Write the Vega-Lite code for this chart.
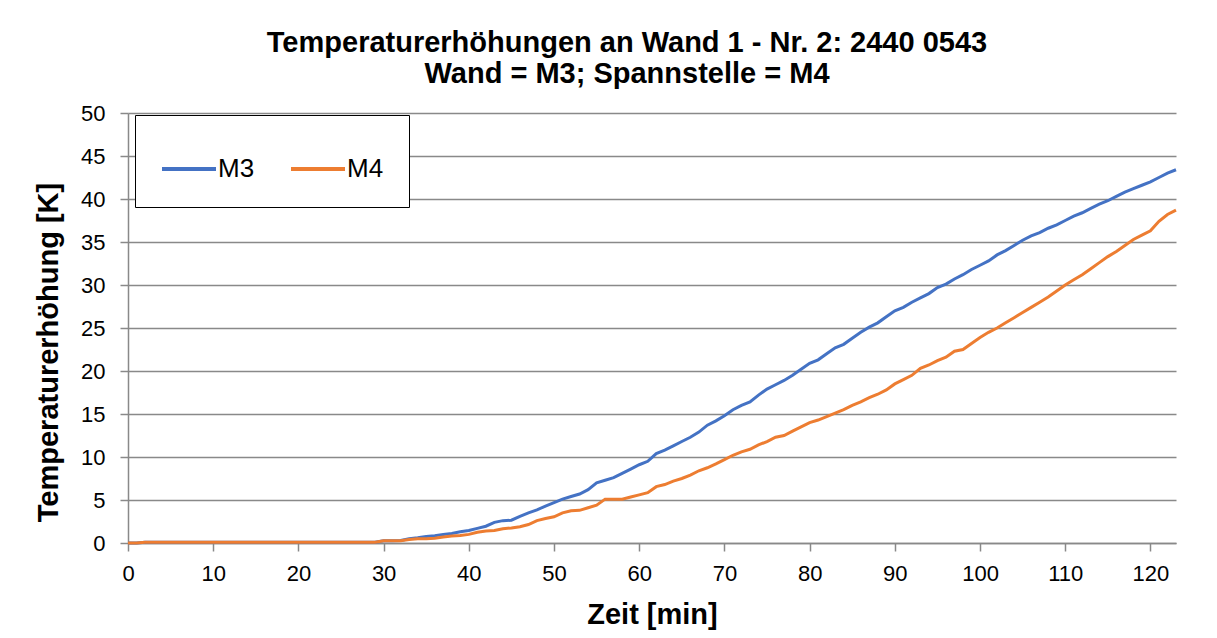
{
  "$schema": "https://vega.github.io/schema/vega-lite/v6.json",
  "width": 1048,
  "height": 430,
  "autosize": "none",
  "padding": {"left": 128, "top": 113, "right": 41, "bottom": 95},
  "background": "white",
  "title": {
    "text": ["Temperaturerhöhungen an Wand 1 - Nr. 2: 2440 0543", "Wand = M3; Spannstelle = M4"],
    "font": "Liberation Sans",
    "fontSize": 29,
    "fontWeight": "bold",
    "color": "black",
    "lineHeight": 31,
    "anchor": "middle",
    "dx": -25,
    "offset": 13
  },
  "data": {
    "values": [
      {"t": 0, "M3": 0, "M4": 0},
      {"t": 1, "M3": 0, "M4": 0},
      {"t": 2, "M3": 0.1, "M4": 0.1},
      {"t": 10, "M3": 0.1, "M4": 0.1},
      {"t": 20, "M3": 0.1, "M4": 0.1},
      {"t": 29, "M3": 0.1, "M4": 0.1},
      {"t": 30, "M3": 0.25, "M4": 0.25},
      {"t": 31, "M3": 0.27, "M4": 0.27},
      {"t": 32, "M3": 0.3, "M4": 0.27},
      {"t": 33, "M3": 0.5, "M4": 0.4},
      {"t": 34, "M3": 0.6, "M4": 0.5},
      {"t": 35, "M3": 0.75, "M4": 0.5},
      {"t": 36, "M3": 0.85, "M4": 0.55},
      {"t": 37, "M3": 1.0, "M4": 0.7},
      {"t": 38, "M3": 1.1, "M4": 0.8},
      {"t": 39, "M3": 1.3, "M4": 0.86},
      {"t": 40, "M3": 1.45, "M4": 1.0},
      {"t": 41, "M3": 1.7, "M4": 1.25},
      {"t": 42, "M3": 1.95, "M4": 1.4},
      {"t": 43, "M3": 2.4, "M4": 1.45},
      {"t": 44, "M3": 2.6, "M4": 1.65},
      {"t": 45, "M3": 2.65, "M4": 1.75},
      {"t": 46, "M3": 3.1, "M4": 1.9},
      {"t": 47, "M3": 3.5, "M4": 2.15},
      {"t": 48, "M3": 3.85, "M4": 2.6},
      {"t": 49, "M3": 4.3, "M4": 2.85},
      {"t": 50, "M3": 4.7, "M4": 3.05},
      {"t": 51, "M3": 5.1, "M4": 3.5},
      {"t": 52, "M3": 5.4, "M4": 3.75},
      {"t": 53, "M3": 5.7, "M4": 3.8},
      {"t": 54, "M3": 6.2, "M4": 4.1},
      {"t": 55, "M3": 7.0, "M4": 4.4},
      {"t": 56, "M3": 7.3, "M4": 5.1},
      {"t": 57, "M3": 7.6, "M4": 5.1},
      {"t": 58, "M3": 8.1, "M4": 5.1},
      {"t": 59, "M3": 8.6, "M4": 5.35},
      {"t": 60, "M3": 9.1, "M4": 5.6},
      {"t": 61, "M3": 9.5, "M4": 5.85},
      {"t": 62, "M3": 10.4, "M4": 6.55},
      {"t": 63, "M3": 10.8, "M4": 6.8},
      {"t": 64, "M3": 11.3, "M4": 7.2},
      {"t": 65, "M3": 11.8, "M4": 7.5},
      {"t": 66, "M3": 12.3, "M4": 7.9},
      {"t": 67, "M3": 12.9, "M4": 8.4},
      {"t": 68, "M3": 13.7, "M4": 8.75},
      {"t": 69, "M3": 14.2, "M4": 9.2},
      {"t": 70, "M3": 14.8, "M4": 9.7},
      {"t": 71, "M3": 15.5, "M4": 10.2},
      {"t": 72, "M3": 16.0, "M4": 10.6},
      {"t": 73, "M3": 16.4, "M4": 10.9},
      {"t": 74, "M3": 17.2, "M4": 11.4},
      {"t": 75, "M3": 17.9, "M4": 11.8},
      {"t": 76, "M3": 18.4, "M4": 12.3},
      {"t": 77, "M3": 18.9, "M4": 12.5},
      {"t": 78, "M3": 19.5, "M4": 13.0},
      {"t": 79, "M3": 20.2, "M4": 13.5},
      {"t": 80, "M3": 20.9, "M4": 14.0},
      {"t": 81, "M3": 21.3, "M4": 14.3},
      {"t": 82, "M3": 22.0, "M4": 14.7},
      {"t": 83, "M3": 22.7, "M4": 15.1},
      {"t": 84, "M3": 23.1, "M4": 15.5},
      {"t": 85, "M3": 23.8, "M4": 16.0},
      {"t": 86, "M3": 24.5, "M4": 16.4},
      {"t": 87, "M3": 25.1, "M4": 16.9},
      {"t": 88, "M3": 25.6, "M4": 17.3},
      {"t": 89, "M3": 26.3, "M4": 17.8},
      {"t": 90, "M3": 27.0, "M4": 18.5},
      {"t": 91, "M3": 27.4, "M4": 19.0},
      {"t": 92, "M3": 28.0, "M4": 19.5},
      {"t": 93, "M3": 28.5, "M4": 20.3},
      {"t": 94, "M3": 29.0, "M4": 20.7},
      {"t": 95, "M3": 29.7, "M4": 21.2},
      {"t": 96, "M3": 30.1, "M4": 21.6},
      {"t": 97, "M3": 30.7, "M4": 22.3},
      {"t": 98, "M3": 31.2, "M4": 22.5},
      {"t": 99, "M3": 31.8, "M4": 23.2},
      {"t": 100, "M3": 32.3, "M4": 23.9},
      {"t": 101, "M3": 32.8, "M4": 24.5},
      {"t": 102, "M3": 33.5, "M4": 25.0},
      {"t": 103, "M3": 34.0, "M4": 25.6},
      {"t": 104, "M3": 34.6, "M4": 26.2},
      {"t": 105, "M3": 35.2, "M4": 26.8},
      {"t": 106, "M3": 35.7, "M4": 27.4},
      {"t": 107, "M3": 36.1, "M4": 28.0},
      {"t": 108, "M3": 36.6, "M4": 28.6},
      {"t": 109, "M3": 37.0, "M4": 29.3},
      {"t": 110, "M3": 37.5, "M4": 30.0},
      {"t": 111, "M3": 38.0, "M4": 30.6},
      {"t": 112, "M3": 38.4, "M4": 31.2},
      {"t": 113, "M3": 38.9, "M4": 31.9},
      {"t": 114, "M3": 39.4, "M4": 32.6},
      {"t": 115, "M3": 39.8, "M4": 33.3},
      {"t": 116, "M3": 40.3, "M4": 33.9},
      {"t": 117, "M3": 40.8, "M4": 34.6},
      {"t": 118, "M3": 41.2, "M4": 35.3},
      {"t": 119, "M3": 41.6, "M4": 35.8},
      {"t": 120, "M3": 42.0, "M4": 36.3},
      {"t": 121, "M3": 42.5, "M4": 37.4},
      {"t": 122, "M3": 43.0, "M4": 38.2},
      {"t": 123, "M3": 43.4, "M4": 38.7}
    ]
  },
  "transform": [{"fold": ["M3", "M4"], "as": ["Serie", "Wert"]}],
  "mark": {"type": "line", "strokeWidth": 3},
  "encoding": {
    "x": {
      "field": "t",
      "type": "quantitative",
      "scale": {"domain": [0, 123], "nice": false},
      "axis": {
        "values": [0, 10, 20, 30, 40, 50, 60, 70, 80, 90, 100, 110, 120],
        "title": "Zeit [min]",
        "grid": false,
        "tickSize": 8,
        "labelPadding": 12,
        "titlePadding": 16,
        "labelFlush": false,
        "labelOverlap": false
      }
    },
    "y": {
      "field": "Wert",
      "type": "quantitative",
      "scale": {"domain": [0, 50], "nice": false},
      "axis": {
        "values": [0, 5, 10, 15, 20, 25, 30, 35, 40, 45, 50],
        "title": "Temperaturerhöhung [K]",
        "grid": true,
        "tickSize": 8,
        "labelPadding": 15,
        "titlePadding": 17,
        "titleY": 239,
        "labelFlush": false,
        "labelOverlap": false
      }
    },
    "color": {
      "field": "Serie",
      "type": "nominal",
      "scale": {"domain": ["M3", "M4"], "range": ["#4472C4", "#ED7D31"]},
      "legend": {
        "title": null,
        "orient": "none",
        "legendX": 7,
        "legendY": 2,
        "direction": "horizontal",
        "strokeColor": "black",
        "fillColor": "white",
        "padding": 25,
        "symbolType": "stroke",
        "symbolSize": 2916,
        "symbolStrokeWidth": 4,
        "labelFont": "Liberation Sans",
        "labelFontSize": 26,
        "labelColor": "black",
        "labelOffset": 0,
        "columnPadding": 28
      }
    }
  },
  "config": {
    "view": {"stroke": null},
    "axis": {
      "domainColor": "#898989",
      "domainWidth": 1.5,
      "tickColor": "#898989",
      "tickWidth": 1.5,
      "gridColor": "#898989",
      "gridWidth": 1.5,
      "labelFont": "Liberation Sans",
      "labelFontSize": 22,
      "labelColor": "black",
      "titleFont": "Liberation Sans",
      "titleFontSize": 29,
      "titleFontWeight": "bold",
      "titleColor": "black"
    }
  }
}
